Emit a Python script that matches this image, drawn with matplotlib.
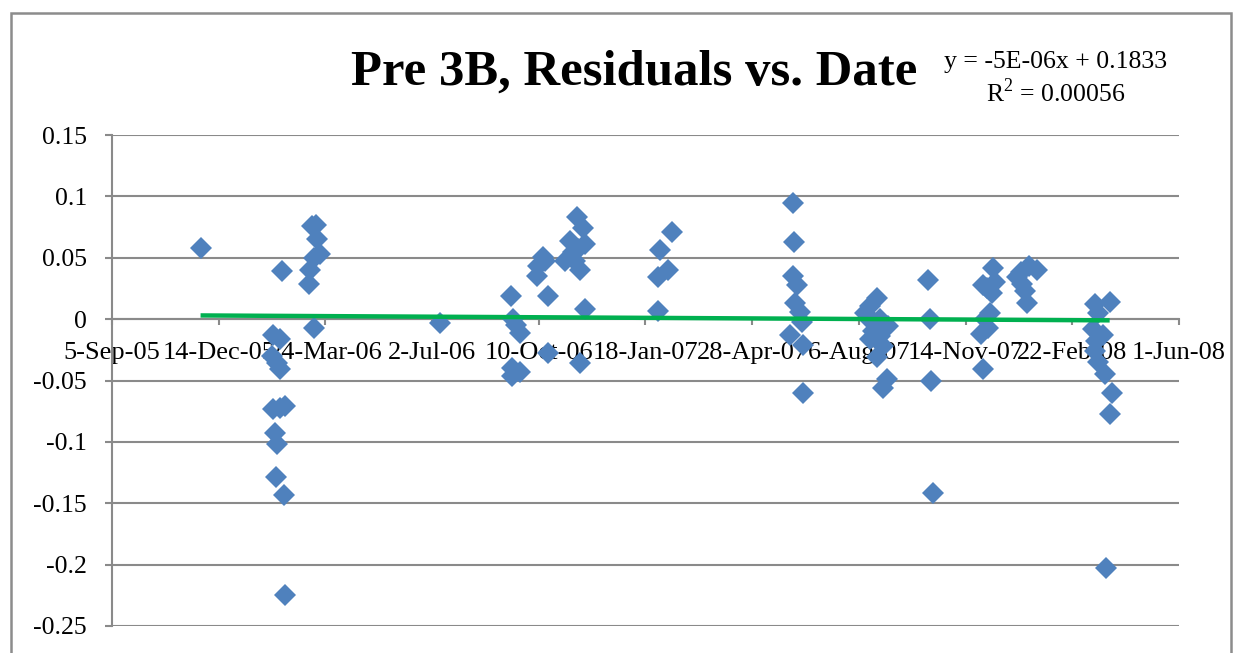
import matplotlib
matplotlib.use("Agg")
import matplotlib.pyplot as plt
from matplotlib.patches import Rectangle

# Excel date serial numbers (x) and residuals (y)
dates = [38683,
         38759, 38751, 38757, 38750, 38755, 38757, 38751, 38757, 38762, 38753, 38755, 38754, 38761, 38762,
         38791, 38787, 38792, 38795, 38789, 38786, 38785, 38789,
         38907,
         38974, 38976, 38979, 38982, 38975, 38982, 38975,
         39004, 38999, 39006, 38998, 39009, 39009,
         39036, 39041, 39029, 39043, 39037, 39025, 39034, 39039, 39032, 39043, 39039,
         39125, 39114, 39121, 39112, 39112,
         39238, 39239, 39238, 39242, 39240, 39245, 39247, 39235, 39248, 39248,
         39317, 39310, 39306, 39309, 39320, 39327, 39313, 39320, 39310, 39323, 39317, 39326, 39323,
         39365, 39367, 39368, 39369,
         39426, 39416, 39428, 39425, 39423, 39418, 39421, 39414, 39416, 39420,
         39459, 39467, 39448, 39453, 39456, 39458, 39452,
         39521, 39535, 39524, 39519, 39529, 39521, 39524, 39531, 39537, 39535, 39532, 39522]
residuals = [0.058,
             0.039, -0.013, -0.016, -0.030, -0.036, -0.041, -0.073, -0.072, -0.071, -0.093, -0.102, -0.129, -0.143, -0.225,
             0.077, 0.076, 0.065, 0.053, 0.050, 0.040, 0.029, -0.007,
             -0.003,
             0.019, 0.000, -0.005, -0.011, -0.040, -0.043, -0.046,
             0.051, 0.043, 0.047, 0.035, 0.019, -0.028,
             0.083, 0.074, 0.064, 0.061, 0.057, 0.047, 0.047, 0.040, 0.055, 0.008, -0.036,
             0.071, 0.056, 0.040, 0.034, 0.007,
             0.095, 0.063, 0.035, 0.028, 0.013, 0.006, -0.002, -0.013, -0.021, -0.060,
             0.017, 0.011, 0.005, 0.000, 0.000, -0.006, -0.010, -0.014, -0.016, -0.022, -0.031, -0.049, -0.056,
             0.032, 0.000, -0.050, -0.142,
             0.042, 0.028, 0.030, 0.021, 0.005, 0.000, -0.007, -0.012, -0.041, 0.025,
             0.043, 0.040, 0.034, 0.029, 0.023, 0.013, 0.038,
             0.012, 0.014, 0.005, -0.008, -0.013, -0.026, -0.035, -0.045, -0.060, -0.077, -0.203, -0.018]

trend_x = [38683, 39535]
trend_y = [0.003, -0.001]

x_ticks = [38600, 38700, 38800, 38900, 39000, 39100, 39200, 39300, 39400, 39500, 39600]
x_labels = ["5-Sep-05", "14-Dec-05", "24-Mar-06", "2-Jul-06", "10-Oct-06", "18-Jan-07",
            "28-Apr-07", "6-Aug-07", "14-Nov-07", "22-Feb-08", "1-Jun-08"]
y_ticks = [-0.25, -0.2, -0.15, -0.1, -0.05, 0, 0.05, 0.1, 0.15]
y_labels = ["-0.25", "-0.2", "-0.15", "-0.1", "-0.05", "0", "0.05", "0.1", "0.15"]

title = "Pre 3B, Residuals vs. Date"
equation = "y = -5E-06x + 0.1833\nR$^2$ = 0.00056"

plt.rcParams['font.family'] = ['Liberation Serif', 'DejaVu Serif']
plt.rcParams['mathtext.fontset'] = 'custom'
plt.rcParams['mathtext.rm'] = 'Liberation Serif'

W, H = 1247, 653
fig = plt.figure(figsize=(W / 100, H / 100), dpi=100)
ax = fig.add_axes([112 / W, 1 - 626 / H, (1179 - 112) / W, (626 - 135) / H])

grid_c = '#8a8a8a'
ax.set_xlim(38600, 39600)
ax.set_ylim(-0.25, 0.15)
ax.set_yticks(y_ticks)
ax.set_yticklabels(y_labels)
ax.set_xticks(x_ticks)
ax.set_xticklabels(x_labels)
ax.yaxis.grid(True, color=grid_c, linewidth=1.5)
ax.xaxis.grid(False)
ax.set_axisbelow(True)

for s in ['top', 'right']:
    ax.spines[s].set_visible(False)
ax.spines['left'].set_color(grid_c)
ax.spines['left'].set_linewidth(1.5)
ax.spines['bottom'].set_position(('data', 0))
ax.spines['bottom'].set_color(grid_c)
ax.spines['bottom'].set_linewidth(1.5)
ax.spines['bottom'].set_zorder(1.6)
ax.spines['left'].set_zorder(1.6)

ax.tick_params(axis='y', direction='out', length=5, width=1.5, color=grid_c,
               labelsize=18.5, pad=13, labelcolor='black')
ax.tick_params(axis='x', direction='out', length=4.5, width=1.5, color=grid_c,
               labelsize=19, pad=12, labelcolor='black')

ax.plot(dates, residuals, linestyle='none', marker='D', markersize=11.5,
        markerfacecolor='#4F81BD', markeredgewidth=0, zorder=3, clip_on=False)
ax.plot(trend_x, trend_y, color='#00B050', linewidth=3.2, zorder=4, solid_capstyle='butt')

fig.text(634 / W, 1 - 73 / H, title, fontsize=36.5, fontweight='bold',
         ha='center', va='center')
fig.text(1056 / W, 1 - 79 / H, equation, fontsize=18.5, ha='center', va='center',
         multialignment='center', linespacing=1.2)

fig.patches.append(Rectangle((11 / W, -0.05), (1231 - 11) / W, 1 - 13 / H + 0.05,
                             transform=fig.transFigure, fill=False,
                             edgecolor='#8c8c8c', linewidth=1.8))

fig.savefig('out.png', dpi=100)
